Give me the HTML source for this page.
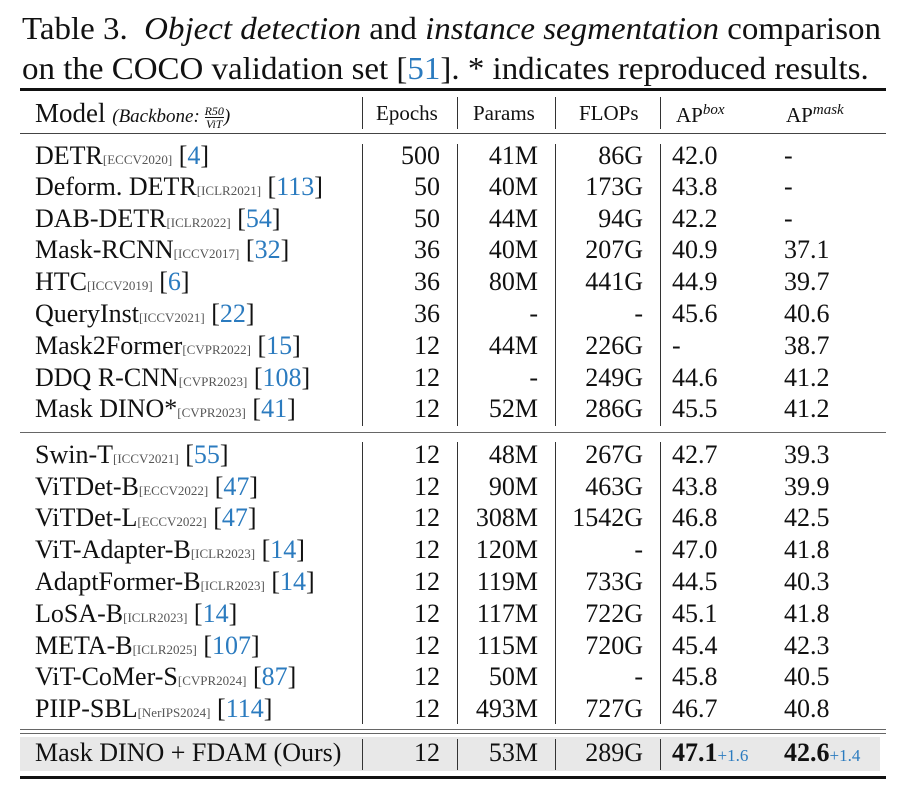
<!DOCTYPE html>
<html><head><meta charset="utf-8"><style>
html,body{margin:0;padding:0;background:#fff;}
body{width:904px;height:792px;position:relative;overflow:hidden;font-family:"Liberation Serif",serif;color:#111;}
.cap{position:absolute;left:22px;font-size:32px;white-space:nowrap;line-height:1;transform-origin:left top;}
.b{color:#2b7bbf;}
.r{position:absolute;font-size:26px;line-height:1;white-space:nowrap;}
.s{font-size:13px;color:#555;}
.hl{position:absolute;left:20px;width:866px;background:#111;}
.vl{position:absolute;width:1.3px;background:#333;}
</style></head><body>
<div class="cap" style="top:12px;transform:scaleX(1.03)">Table 3. &nbsp;<i>Object detection</i> and <i>instance segmentation</i> comparison</div>
<div class="cap" style="top:52px;transform:scaleX(1.03)">on the COCO validation set [<span class="b">51</span>]. * indicates reproduced results.</div>

<div class="hl" style="top:88px;height:3px"></div>
<div class="hl" style="top:133px;height:1.3px;background:#444"></div>
<div class="hl" style="top:432px;height:1.3px;background:#666"></div>
<div class="hl" style="top:729px;height:1.3px;background:#666"></div>
<div class="hl" style="top:733px;height:1.3px;background:#666"></div>
<div style="position:absolute;left:20px;width:860px;top:737px;height:34px;background:#e8e8e8"></div>
<div class="hl" style="top:776px;height:3px"></div>

<div class="vl" style="left:362px;top:97px;height:32px"></div>
<div class="vl" style="left:457px;top:97px;height:32px"></div>
<div class="vl" style="left:555px;top:97px;height:32px"></div>
<div class="vl" style="left:660px;top:97px;height:32px"></div>
<div class="vl" style="left:362px;top:144px;height:282px"></div>
<div class="vl" style="left:457px;top:144px;height:282px"></div>
<div class="vl" style="left:555px;top:144px;height:282px"></div>
<div class="vl" style="left:660px;top:144px;height:282px"></div>
<div class="vl" style="left:362px;top:442px;height:282px"></div>
<div class="vl" style="left:457px;top:442px;height:282px"></div>
<div class="vl" style="left:555px;top:442px;height:282px"></div>
<div class="vl" style="left:660px;top:442px;height:282px"></div>
<div class="vl" style="left:362px;top:739px;height:31px"></div>
<div class="vl" style="left:457px;top:739px;height:31px"></div>
<div class="vl" style="left:555px;top:739px;height:31px"></div>
<div class="vl" style="left:660px;top:739px;height:31px"></div>

<div class="r" style="left:35px;top:100px;font-size:27px">Model <i style="font-size:19px">(Backbone: <span style="display:inline-block;vertical-align:middle;text-align:center;font-size:12px;line-height:1.05"><span style="border-bottom:1px solid #111;display:block">R50</span>ViT</span>)</i></div>
<div class="r" style="left:376px;top:103px;font-size:21px">Epochs</div>
<div class="r" style="left:473px;top:103px;font-size:21px">Params</div>
<div class="r" style="left:579px;top:103px;font-size:21px">FLOPs</div>
<div class="r" style="left:676px;top:103px;font-size:21px">AP<sup style="font-size:15px;font-style:italic">box</sup></div>
<div class="r" style="left:786px;top:103px;font-size:21px">AP<sup style="font-size:15px;font-style:italic">mask</sup></div>

<div id="rows"></div>
<script>
var rows=[
["DETR","[ECCV2020]","4","500","41M","86G","42.0","-",157],
["Deform. DETR","[ICLR2021]","113","50","40M","173G","43.8","-",188],
["DAB-DETR","[ICLR2022]","54","50","44M","94G","42.2","-",220],
["Mask-RCNN","[ICCV2017]","32","36","40M","207G","40.9","37.1",251],
["HTC","[ICCV2019]","6","36","80M","441G","44.9","39.7",283],
["QueryInst","[ICCV2021]","22","36","-","-","45.6","40.6",315],
["Mask2Former","[CVPR2022]","15","12","44M","226G","-","38.7",347],
["DDQ R-CNN","[CVPR2023]","108","12","-","249G","44.6","41.2",379],
["Mask DINO*","[CVPR2023]","41","12","52M","286G","45.5","41.2",410],
["Swin-T","[ICCV2021]","55","12","48M","267G","42.7","39.3",456],
["ViTDet-B","[ECCV2022]","47","12","90M","463G","43.8","39.9",488],
["ViTDet-L","[ECCV2022]","47","12","308M","1542G","46.8","42.5",519],
["ViT-Adapter-B","[ICLR2023]","14","12","120M","-","47.0","41.8",551],
["AdaptFormer-B","[ICLR2023]","14","12","119M","733G","44.5","40.3",583],
["LoSA-B","[ICLR2023]","14","12","117M","722G","45.1","41.8",615],
["META-B","[ICLR2025]","107","12","115M","720G","45.4","42.3",647],
["ViT-CoMer-S","[CVPR2024]","87","12","50M","-","45.8","40.5",678],
["PIIP-SBL","[NerIPS2024]","114","12","493M","727G","46.7","40.8",710]];
var h="";
rows.forEach(function(r){var t=r[8]-14;
h+='<div class="r" style="left:35px;top:'+t+'px">'+r[0]+'<span class="s">'+r[1]+'</span> [<span class="b">'+r[2]+'</span>]</div>';
h+='<div class="r" style="right:'+(904-440)+'px;top:'+t+'px">'+r[3]+'</div>';
h+='<div class="r" style="right:'+(904-538)+'px;top:'+t+'px">'+r[4]+'</div>';
h+='<div class="r" style="right:'+(904-643)+'px;top:'+t+'px">'+r[5]+'</div>';
h+='<div class="r" style="left:672px;top:'+t+'px">'+r[6]+'</div>';
h+='<div class="r" style="left:784px;top:'+t+'px">'+r[7]+'</div>';});
var t=740;
h+='<div class="r" style="left:35px;top:'+t+'px">Mask DINO + FDAM (Ours)</div>';
h+='<div class="r" style="right:'+(904-440)+'px;top:'+t+'px">12</div>';
h+='<div class="r" style="right:'+(904-538)+'px;top:'+t+'px">53M</div>';
h+='<div class="r" style="right:'+(904-643)+'px;top:'+t+'px">289G</div>';
h+='<div class="r" style="left:672px;top:'+t+'px"><b>47.1</b><span class="b" style="font-size:17px">+1.6</span></div>';
h+='<div class="r" style="left:784px;top:'+t+'px"><b>42.6</b><span class="b" style="font-size:17px">+1.4</span></div>';
document.getElementById("rows").innerHTML=h;
</script>
</body></html>
